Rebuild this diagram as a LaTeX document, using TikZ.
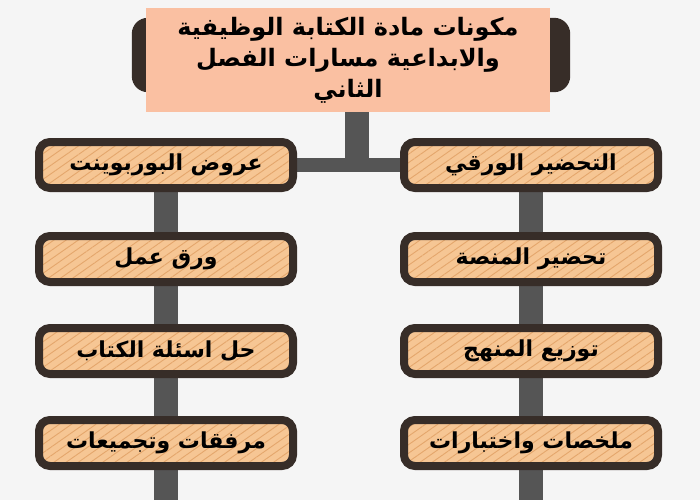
\documentclass[tikz,border=0pt]{standalone}
\usepackage{fontspec}
\newfontfamily\arabicfont[Script=Arabic]{DejaVu Sans}
\TeXXeTstate=1
\usetikzlibrary{patterns.meta,backgrounds,calc}
\definecolor{wood}{RGB}{246,198,148}
\definecolor{grain}{RGB}{228,166,108}
\definecolor{frame}{RGB}{55,45,40}
\definecolor{peach}{RGB}{250,192,162}
\definecolor{bar}{RGB}{85,85,85}
\definecolor{paper}{RGB}{245,245,245}
\newcommand{\artext}[1]{\beginR#1\endR}

\begin{document}
\begin{tikzpicture}[
    x=1pt, y=-1pt,
    plank/.style={draw=frame, line width=8pt, rounded corners=11pt,
        minimum width=254pt, minimum height=46pt,
        preaction={fill=wood},
        pattern={Lines[angle=35,distance=7pt,line width=0.9pt]}, pattern color=grain,
        font=\arabicfont\bfseries\fontsize{22}{26}\selectfont},
    headbox/.style={fill=peach, minimum width=404pt, minimum height=104pt, align=center,
        font=\arabicfont\bfseries\fontsize{24}{31}\selectfont},
    stem/.style={draw=bar, line width=24pt},
    link/.style={draw=bar, line width=14pt}
]
\useasboundingbox (0,0) rectangle (700,500);

\node[headbox] (head) at (348,60) {\artext{مكونات مادة الكتابة الوظيفية}\\ \artext{والابداعية مسارات الفصل}\\ \artext{الثاني}};

% right column
\node[plank] (paper) at (531,165) {\artext{التحضير الورقي}};
\node[plank] (platform) at (531,259) {\artext{تحضير المنصة}};
\node[plank] (plan) at (531,351) {\artext{توزيع المنهج}};
\node[plank] (tests) at (531,443) {\artext{ملخصات واختبارات}};

% left column
\node[plank] (slides) at (166,165) {\artext{عروض البوربوينت}};
\node[plank] (sheets) at (166,259) {\artext{ورق عمل}};
\node[plank] (answers) at (166,351) {\artext{حل اسئلة الكتاب}};
\node[plank] (extras) at (166,443) {\artext{مرفقات وتجميعات}};

\begin{scope}[on background layer]
\fill[paper] (0,0) rectangle (700,500);
\fill[frame, rounded corners=16pt] ($(head.north west)+(-14,10)$) rectangle ($(head.south east)+(20,-20)$);
\coordinate (fork) at (357,165);
\coordinate (bottom) at (0,500);
\draw[stem] (head.south -| fork) -- (fork);
\draw[link] (slides.east) -- (paper.west);
\draw[stem] (slides) -- (slides |- bottom);
\draw[stem] (paper) -- (paper |- bottom);
\end{scope}
\end{tikzpicture}
\end{document}
